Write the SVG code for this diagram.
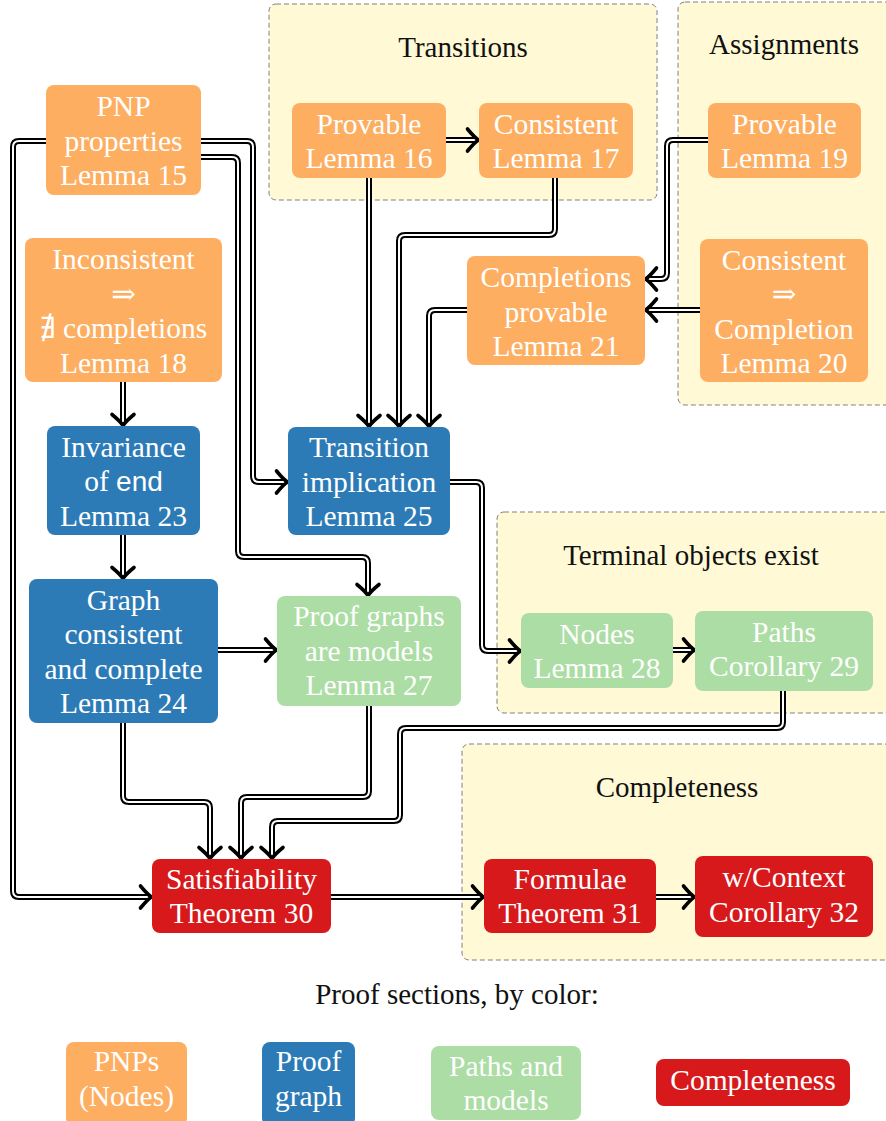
<svg xmlns="http://www.w3.org/2000/svg" width="886" height="1121" viewBox="0 0 886 1121">
<style>
text{font-family:"Liberation Serif","DejaVu Serif","Times New Roman",serif}
.grp{fill:#fff9d5;stroke:#808080;stroke-width:1;stroke-dasharray:5 3}
.gt{font-size:29px;fill:#111;text-anchor:middle}
.nt{font-size:29.5px;fill:#fff;text-anchor:middle}
.sf{font-family:"Liberation Sans","DejaVu Sans",sans-serif;font-size:28px}
.or{fill:#fdae61}.bl{fill:#2c7bb6}.gr{fill:#abdda4}.rd{fill:#d7191c}
.cb{fill:none;stroke:#000;stroke-width:6}
.cw{fill:none;stroke:#fff;stroke-width:2}
.ah{fill:none;stroke:#000;stroke-width:3.6;stroke-linecap:round;stroke-linejoin:round}
</style>
<defs>
<path id="arr" d="M -11,-11 Q -4,-2.5 0,0 Q -4,2.5 -11,11"/>
</defs>
<rect width="886" height="1121" fill="#fff"/>
<g id="groups">
<g id="g-transitions"><rect class="grp" x="269" y="4" width="388" height="196" rx="7"/><text class="gt" x="463" y="57">Transitions</text></g>
<g id="g-assignments"><rect class="grp" x="678" y="2" width="214" height="403" rx="7"/><text class="gt" x="784" y="54">Assignments</text></g>
<g id="g-terminal"><rect class="grp" x="497" y="512" width="395" height="201" rx="7"/><text class="gt" x="691" y="565">Terminal objects exist</text></g>
<g id="g-completeness"><rect class="grp" x="462" y="744" width="430" height="216" rx="7"/><text class="gt" x="677" y="797">Completeness</text></g>
</g>
<g id="connectors">
<g class="cb">
<path d="M446,140 H477"/>
<path d="M369,178 V425"/>
<path d="M555,178 V229 Q555,235 549,235 H405 Q399,235 399,241 V425"/>
<path d="M467,310 H435 Q429,310 429,316 V425"/>
<path d="M201,141 H247 Q253,141 253,147 V476 Q253,482 259,482 H286"/>
<path d="M201,157 H232 Q238,157 238,163 V551 Q238,557 244,557 H362 Q368,557 368,563 V594"/>
<path d="M46,141 H19 Q13,141 13,147 V891 Q13,897 19,897 H150"/>
<path d="M708,140 H673 Q667,140 667,146 V273 Q667,279 661,279 H647"/>
<path d="M700,310 H647"/>
<path d="M123,382 V424"/>
<path d="M123,535 V577"/>
<path d="M218,650 H275"/>
<path d="M450,482 H476 Q482,482 482,488 V645 Q482,651 488,651 H519"/>
<path d="M673,650 H693"/>
<path d="M123,723 V796 Q123,802 129,802 H204 Q210,802 210,808 V857"/>
<path d="M369,706 V791 Q369,797 363,797 H247 Q241,797 241,803 V857"/>
<path d="M783,691 V722 Q783,728 777,728 H406 Q400,728 400,734 V815 Q400,821 394,821 H278 Q272,821 272,827 V857"/>
<path d="M331,897 H482"/>
<path d="M656,897 H693"/>
</g>
<g class="cw">
<path d="M446,140 H477"/>
<path d="M369,178 V425"/>
<path d="M555,178 V229 Q555,235 549,235 H405 Q399,235 399,241 V425"/>
<path d="M467,310 H435 Q429,310 429,316 V425"/>
<path d="M201,141 H247 Q253,141 253,147 V476 Q253,482 259,482 H286"/>
<path d="M201,157 H232 Q238,157 238,163 V551 Q238,557 244,557 H362 Q368,557 368,563 V594"/>
<path d="M46,141 H19 Q13,141 13,147 V891 Q13,897 19,897 H150"/>
<path d="M708,140 H673 Q667,140 667,146 V273 Q667,279 661,279 H647"/>
<path d="M700,310 H647"/>
<path d="M123,382 V424"/>
<path d="M123,535 V577"/>
<path d="M218,650 H275"/>
<path d="M450,482 H476 Q482,482 482,488 V645 Q482,651 488,651 H519"/>
<path d="M673,650 H693"/>
<path d="M123,723 V796 Q123,802 129,802 H204 Q210,802 210,808 V857"/>
<path d="M369,706 V791 Q369,797 363,797 H247 Q241,797 241,803 V857"/>
<path d="M783,691 V722 Q783,728 777,728 H406 Q400,728 400,734 V815 Q400,821 394,821 H278 Q272,821 272,827 V857"/>
<path d="M331,897 H482"/>
<path d="M656,897 H693"/>
</g>
<g class="ah">
<use href="#arr" transform="translate(478.5,140)"/>
<use href="#arr" transform="translate(369,426.5) rotate(90)"/>
<use href="#arr" transform="translate(399,426.5) rotate(90)"/>
<use href="#arr" transform="translate(429,426.5) rotate(90)"/>
<use href="#arr" transform="translate(287.5,482)"/>
<use href="#arr" transform="translate(368,595.5) rotate(90)"/>
<use href="#arr" transform="translate(151.5,897)"/>
<use href="#arr" transform="translate(645.5,279) rotate(180)"/>
<use href="#arr" transform="translate(645.5,310) rotate(180)"/>
<use href="#arr" transform="translate(123,425.5) rotate(90)"/>
<use href="#arr" transform="translate(123,578.5) rotate(90)"/>
<use href="#arr" transform="translate(276.5,650)"/>
<use href="#arr" transform="translate(520.5,651)"/>
<use href="#arr" transform="translate(694.5,650)"/>
<use href="#arr" transform="translate(210,858.5) rotate(90)"/>
<use href="#arr" transform="translate(241,858.5) rotate(90)"/>
<use href="#arr" transform="translate(272,858.5) rotate(90)"/>
<use href="#arr" transform="translate(483.5,897)"/>
<use href="#arr" transform="translate(694.5,897)"/>
</g>
</g>
<g id="n15"><rect class="or" x="46" y="85" width="155" height="110" rx="8"/><text class="nt" x="123.5" y="116">PNP</text><text class="nt" x="123.5" y="150.5">properties</text><text class="nt" x="123.5" y="185">Lemma 15</text></g>
<g id="n18"><rect class="or" x="25" y="238" width="197" height="144" rx="8"/><text class="nt" x="123.5" y="269">Inconsistent</text><text class="nt" x="123.5" y="303.5">⇒</text><text class="nt" x="123.5" y="338">∄ completions</text><text class="nt" x="123.5" y="372.5">Lemma 18</text></g>
<g id="n16"><rect class="or" x="292" y="103" width="154" height="75" rx="8"/><text class="nt" x="369" y="133.5">Provable</text><text class="nt" x="369" y="168">Lemma 16</text></g>
<g id="n17"><rect class="or" x="479" y="103" width="154" height="75" rx="8"/><text class="nt" x="556" y="133.5">Consistent</text><text class="nt" x="556" y="168">Lemma 17</text></g>
<g id="n19"><rect class="or" x="708" y="103" width="153" height="75" rx="8"/><text class="nt" x="784.5" y="133.5">Provable</text><text class="nt" x="784.5" y="168">Lemma 19</text></g>
<g id="n20"><rect class="or" x="700" y="239" width="168" height="143" rx="8"/><text class="nt" x="784" y="269.5">Consistent</text><text class="nt" x="784" y="304">⇒</text><text class="nt" x="784" y="338.5">Completion</text><text class="nt" x="784" y="373">Lemma 20</text></g>
<g id="n21"><rect class="or" x="467" y="256" width="178" height="109" rx="8"/><text class="nt" x="556" y="287">Completions</text><text class="nt" x="556" y="321.5">provable</text><text class="nt" x="556" y="356">Lemma 21</text></g>
<g id="n23"><rect class="bl" x="47" y="426" width="153" height="109" rx="8"/><text class="nt" x="123.5" y="456.5">Invariance</text><text class="nt" x="123.5" y="491">of <tspan class="sf">end</tspan></text><text class="nt" x="123.5" y="525.5">Lemma 23</text></g>
<g id="n25"><rect class="bl" x="288" y="427" width="162" height="108" rx="8"/><text class="nt" x="369" y="457">Transition</text><text class="nt" x="369" y="491.5">implication</text><text class="nt" x="369" y="526">Lemma 25</text></g>
<g id="n24"><rect class="bl" x="29" y="579" width="189" height="144" rx="8"/><text class="nt" x="123.5" y="609.5">Graph</text><text class="nt" x="123.5" y="644">consistent</text><text class="nt" x="123.5" y="678.5">and complete</text><text class="nt" x="123.5" y="713">Lemma 24</text></g>
<g id="n27"><rect class="gr" x="277" y="596" width="184" height="110" rx="8"/><text class="nt" x="369" y="626">Proof graphs</text><text class="nt" x="369" y="660.5">are models</text><text class="nt" x="369" y="695">Lemma 27</text></g>
<g id="n28"><rect class="gr" x="521" y="613" width="152" height="75" rx="8"/><text class="nt" x="597" y="643.5">Nodes</text><text class="nt" x="597" y="678">Lemma 28</text></g>
<g id="n29"><rect class="gr" x="695" y="611" width="178" height="80" rx="8"/><text class="nt" x="784" y="641.5">Paths</text><text class="nt" x="784" y="676">Corollary 29</text></g>
<g id="n30"><rect class="rd" x="152" y="859" width="179" height="74" rx="8"/><text class="nt" x="241.5" y="888.5">Satisfiability</text><text class="nt" x="241.5" y="923">Theorem 30</text></g>
<g id="n31"><rect class="rd" x="484" y="859" width="172" height="74" rx="8"/><text class="nt" x="570" y="888.5">Formulae</text><text class="nt" x="570" y="923">Theorem 31</text></g>
<g id="n32"><rect class="rd" x="695" y="856" width="178" height="81" rx="8"/><text class="nt" x="784" y="887">w/Context</text><text class="nt" x="784" y="921.5">Corollary 32</text></g>
<g id="legend">
<text class="gt" x="457" y="1004">Proof sections, by color:</text>
<g id="lg-pnp"><rect class="or" x="66" y="1042" width="121" height="84" rx="8"/><text class="nt" x="126.5" y="1071">PNPs</text><text class="nt" x="126.5" y="1106">(Nodes)</text></g>
<g id="lg-pg"><rect class="bl" x="262" y="1042" width="93" height="84" rx="8"/><text class="nt" x="308.5" y="1071">Proof</text><text class="nt" x="308.5" y="1106">graph</text></g>
<g id="lg-pm"><rect class="gr" x="431" y="1046" width="150" height="74" rx="8"/><text class="nt" x="506" y="1075.5">Paths and</text><text class="nt" x="506" y="1110">models</text></g>
<g id="lg-c"><rect class="rd" x="656" y="1059" width="194" height="47" rx="8"/><text class="nt" x="753" y="1090">Completeness</text></g>
</g>
</svg>
